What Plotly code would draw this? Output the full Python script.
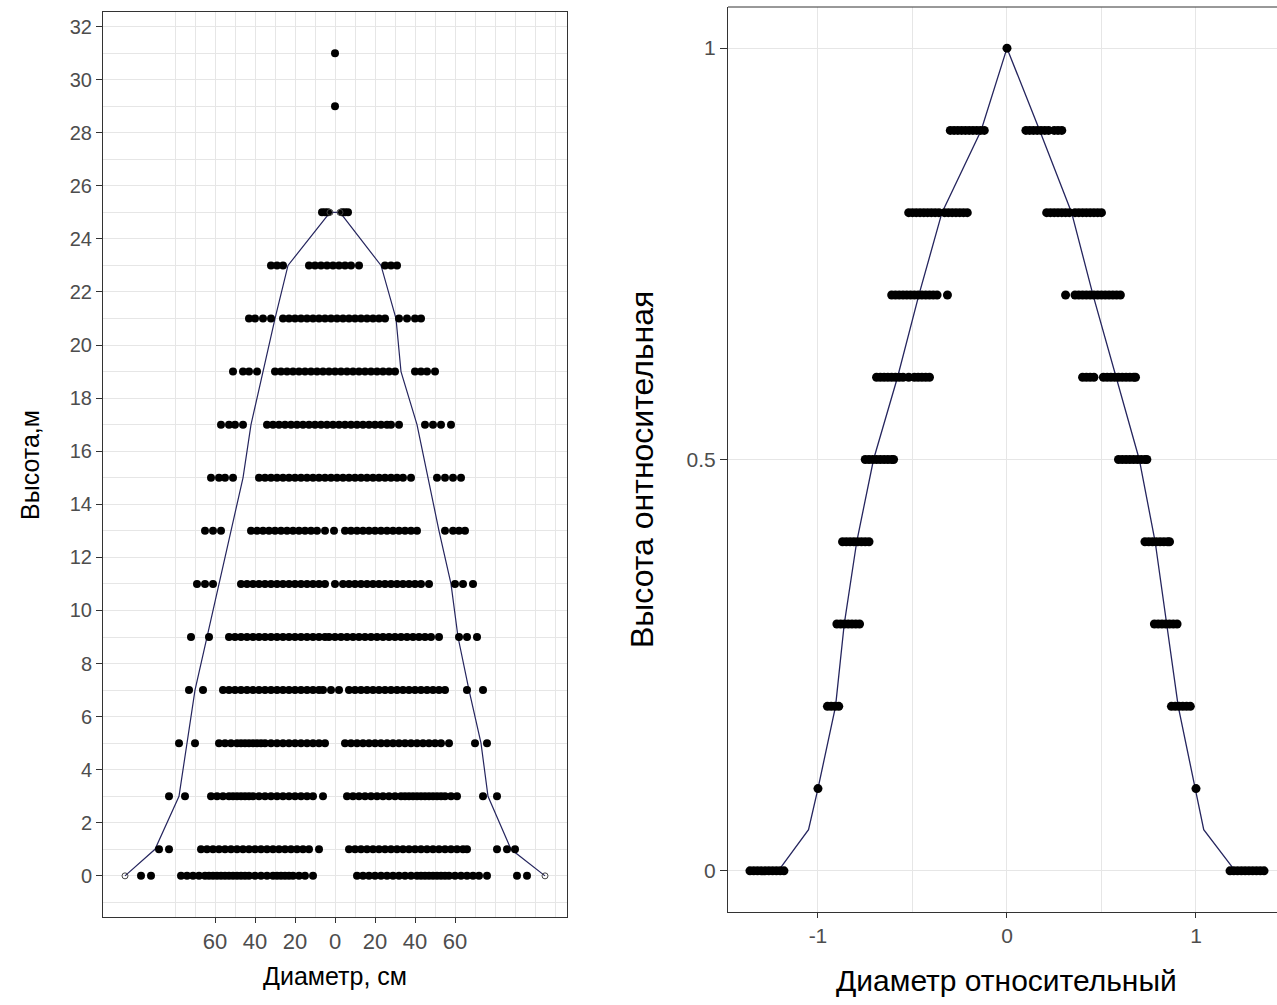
import plotly.graph_objects as go

# ---------------- Left panel data: height (m) vs diameter (cm) ----------------
heights_m = [0, 1, 3, 5, 7, 9, 11, 13, 15, 17, 19, 21, 23, 25, 29, 31]

d_h0 = [-97, -92, -77, -74, -71, -68, -65, -63, -61, -59, -57, -55, -53, -51, -49, -47, -45, -43, -40, -37,
        -34, -31, -29, -27, -25, -23, -21, -18, -15, -11, 11, 14, 17, 20, 23, 26, 29, 32, 35, 38, 41, 43, 45,
        47, 49, 51, 53, 55, 57, 60, 63, 66, 69, 72, 76, 91, 96]
d_h1 = [-88, -83, -67, -64, -61, -58, -55, -52, -49, -46, -43, -40, -37, -34, -31, -28, -25, -22, -19, -16,
        -13, -8, 7, 10, 13, 16, 19, 22, 25, 28, 31, 34, 37, 40, 43, 46, 49, 52, 55, 58, 61, 64, 66, 81, 86, 90]
d_h3 = [-83, -75, -62, -59, -56, -53, -51, -49, -47, -45, -43, -41, -38, -35, -32, -29, -26, -23, -20, -17,
        -14, -11, -6, 6, 9, 12, 15, 18, 21, 24, 27, 30, 33, 35, 37, 39, 41, 43, 45, 47, 49, 51, 53, 55, 58,
        61, 74, 81]
d_h5 = [-78, -70, -58, -55, -52, -49, -47, -45, -43, -41, -39, -37, -35, -32, -29, -26, -23, -20, -17, -14,
        -11, -8, -5, 5, 8, 11, 14, 17, 20, 23, 26, 29, 32, 35, 38, 41, 44, 47, 50, 53, 57, 70, 76]
d_h7 = [-73, -66, -56, -53, -50, -47, -44, -41, -38, -35, -32, -29, -26, -23, -20, -17, -14, -11, -8, -6,
        -2, 2, 7, 10, 13, 16, 19, 22, 25, 28, 31, 34, 37, 40, 43, 46, 49, 52, 55, 66, 74]
d_h9 = [-72, -63, -53, -50, -47, -44, -41, -38, -35, -32, -29, -26, -23, -20, -17, -14, -11, -8, -5, -3,
        0, 3, 6, 9, 12, 15, 18, 21, 24, 27, 30, 33, 36, 39, 42, 45, 48, 52, 62, 66, 71]
d_h11 = [-69, -65, -61, -47, -44, -41, -38, -35, -32, -29, -26, -23, -20, -17, -14, -11, -8, -5, 0, 4, 7,
         10, 13, 16, 19, 22, 25, 28, 31, 34, 37, 40, 43, 47, 60, 64, 69]
d_h13 = [-65, -61, -57, -42, -39, -36, -33, -30, -27, -24, -21, -18, -15, -12, -9, -5, -0.5, 5, 8, 11, 14,
         17, 20, 23, 26, 29, 32, 35, 38, 41, 55, 59, 62, 65]
d_h15 = [-62, -58, -55, -51, -38, -35, -32, -29, -26, -23, -20, -17, -14, -11, -8, -5, -2, 1, 4, 7, 10, 13,
         16, 19, 22, 25, 28, 31, 34, 38, 51, 55, 59, 63]
d_h17 = [-57, -53, -50, -46, -34, -31, -28, -25, -22, -19, -16, -13, -10, -7, -4, -1, 2, 5, 8, 11, 14, 17,
         20, 23, 26, 28, 32, 45, 49, 53, 58]
d_h19 = [-51, -46, -43, -39, -30, -27, -24, -21, -18, -15, -12, -9, -6, -3, 0, 3, 6, 9, 12, 15, 18, 21, 24,
         27, 30, 40, 43, 46, 50]
d_h21 = [-43, -40, -36, -32, -26, -23, -20, -17, -14, -11, -8, -5, -2, 1, 4, 7, 10, 13, 16, 19, 22, 25, 32,
         36, 40, 43]
d_h23 = [-32, -29, -26, -13, -10, -7, -4, -1, 2, 5, 8, 12, 25, 28, 31]
d_h25 = [-6.5, -5, -3.5, 3.5, 5, 6.5]
d_h29 = [0]
d_h31 = [0]

left_rows = [d_h0, d_h1, d_h3, d_h5, d_h7, d_h9, d_h11, d_h13, d_h15, d_h17, d_h19, d_h21, d_h23, d_h25,
             d_h29, d_h31]

# profile line (left panel)
prof_x = [-105, -90, -78, -74, -70, -64, -58, -52, -46, -42, -36, -30, -23.5, -2.5,
          2.5, 23, 30.5, 33, 41, 46.5, 52, 58, 61.5, 67, 73, 76.5, 88, 105]
prof_y = [0, 1, 3, 5, 7, 9, 11, 13, 15, 17, 19, 21, 23, 25,
          25, 23, 21, 19, 17, 15, 13, 11, 9, 7, 5, 3, 1, 0]
prof_end_x = [-105, -2.5, 2.5, 105]
prof_end_y = [0, 25, 25, 0]

left_xtick_vals = [-60, -40, -20, 0, 20, 40, 60]
left_xtick_text = ["60", "40", "20", "0", "20", "40", "60"]
left_xminor = [-80, -70, -50, -30, -10, 10, 30, 50, 70, 80, 90, 100, 110]
left_ytick_vals = list(range(0, 33, 2))
left_yminor = list(range(-1, 33, 2))

# ---------------- Right panel data: relative height vs relative diameter ----------------
rel_heights = [0, 0.1, 0.2, 0.3, 0.4, 0.5, 0.6, 0.7, 0.8, 0.9, 1.0]

r_h00 = [-1.36, -1.34, -1.32, -1.30, -1.28, -1.26, -1.24, -1.22, -1.20, -1.18,
         1.18, 1.20, 1.22, 1.24, 1.26, 1.28, 1.30, 1.32, 1.34, 1.36]
r_h01 = [-1.0, 1.0]
r_h02 = [-0.95, -0.93, -0.91, -0.89, 0.87, 0.89, 0.91, 0.93, 0.95, 0.97]
r_h03 = [-0.90, -0.88, -0.86, -0.84, -0.82, -0.80, -0.78, 0.78, 0.80, 0.82, 0.84, 0.86, 0.88, 0.90]
r_h04 = [-0.87, -0.85, -0.83, -0.81, -0.79, -0.77, -0.75, -0.73,
         0.73, 0.75, 0.77, 0.79, 0.81, 0.83, 0.85, 0.86]
r_h05 = [-0.75, -0.73, -0.71, -0.69, -0.67, -0.65, -0.63, -0.61, -0.60,
         0.59, 0.61, 0.63, 0.65, 0.67, 0.69, 0.71, 0.73, 0.74]
r_h06 = [-0.69, -0.67, -0.65, -0.63, -0.61, -0.59, -0.57, -0.55, -0.52, -0.49, -0.47, -0.45, -0.43, -0.41,
         0.40, 0.42, 0.44, 0.46, 0.51, 0.53, 0.55, 0.57, 0.59, 0.61, 0.63, 0.65, 0.67, 0.68]
r_h07 = [-0.61, -0.59, -0.57, -0.55, -0.53, -0.51, -0.49, -0.47, -0.45, -0.43, -0.41, -0.39, -0.37, -0.315,
         0.31, 0.36, 0.38, 0.40, 0.42, 0.44, 0.46, 0.48, 0.50, 0.52, 0.54, 0.56, 0.58, 0.60]
r_h08 = [-0.52, -0.50, -0.48, -0.46, -0.44, -0.42, -0.40, -0.38, -0.36, -0.33, -0.31, -0.29, -0.27, -0.25,
         -0.23, -0.21, 0.21, 0.23, 0.25, 0.27, 0.29, 0.31, 0.33, 0.36, 0.38, 0.40, 0.42, 0.44, 0.46, 0.48, 0.50]
r_h09 = [-0.30, -0.28, -0.26, -0.24, -0.22, -0.20, -0.18, -0.16, -0.14, -0.12,
         0.10, 0.12, 0.14, 0.16, 0.18, 0.20, 0.22, 0.25, 0.27, 0.29]
r_h10 = [0.0]

right_rows = [r_h00, r_h01, r_h02, r_h03, r_h04, r_h05, r_h06, r_h07, r_h08, r_h09, r_h10]

rel_prof_x = [-1.21, -1.05, -1.0, -0.907, -0.861, -0.795, -0.706, -0.579, -0.466, -0.344, -0.137, 0.0,
              0.173, 0.342, 0.455, 0.577, 0.70, 0.784, 0.846, 0.906, 0.996, 1.041, 1.207]
rel_prof_y = [0, 0.05, 0.1, 0.2, 0.3, 0.4, 0.5, 0.6, 0.7, 0.8, 0.9, 1.0,
              0.9, 0.8, 0.7, 0.6, 0.5, 0.4, 0.3, 0.2, 0.1, 0.05, 0]

right_xtick_vals = [-1, 0, 1]
right_xtick_text = ["-1", "0", "1"]
right_xminor = [-0.5, 0.5]
right_ytick_vals = [0, 0.5, 1]
right_ytick_text = ["0", "0.5", "1"]

# ---------------- Build figure ----------------
W, H = 1277, 1005
FONT = "Liberation Sans, Arial, sans-serif"
GRID = "#e6e6e6"
LINE_COL = "#25255e"

left_x, left_y = [], []
for h, row in zip(heights_m, left_rows):
    left_x += row
    left_y += [h] * len(row)

right_x, right_y = [], []
for h, row in zip(rel_heights, right_rows):
    right_x += row
    right_y += [h] * len(row)

fig = go.Figure()

fig.add_trace(go.Scatter(x=prof_x, y=prof_y, mode="lines", line=dict(color=LINE_COL, width=1.2),
                         xaxis="x", yaxis="y", hoverinfo="skip", showlegend=False))
fig.add_trace(go.Scatter(x=left_x, y=left_y, mode="markers",
                         marker=dict(color="black", size=8, line=dict(width=0)),
                         xaxis="x", yaxis="y", showlegend=False))
fig.add_trace(go.Scatter(x=prof_end_x, y=prof_end_y, mode="markers",
                         marker=dict(symbol="circle-open", color="#444444", size=6, line=dict(width=1)),
                         xaxis="x", yaxis="y", showlegend=False))

fig.add_trace(go.Scatter(x=rel_prof_x, y=rel_prof_y, mode="lines", line=dict(color=LINE_COL, width=1.3),
                         xaxis="x2", yaxis="y2", hoverinfo="skip", showlegend=False))
fig.add_trace(go.Scatter(x=right_x, y=right_y, mode="markers",
                         marker=dict(color="black", size=9, line=dict(width=0)),
                         xaxis="x2", yaxis="y2", showlegend=False))

def px2x(p):
    return p / W

def px2y(p):
    return 1 - p / H

L_LEFT, L_RIGHT, L_TOP, L_BOTTOM = 103, 567, 12, 917
R_LEFT, R_TOP, R_BOTTOM = 728, 7, 912

axis_common = dict(showline=True, linecolor="#333333", linewidth=1, zeroline=False,
                   gridcolor=GRID, gridwidth=1, ticks="outside", tickcolor="#333333",
                   fixedrange=True)

fig.update_layout(
    width=W, height=H, autosize=False,
    margin=dict(l=0, r=0, t=0, b=0),
    paper_bgcolor="white", plot_bgcolor="white",
    font=dict(family=FONT, color="#4d4d4d"),
    xaxis=dict(domain=[px2x(L_LEFT), px2x(L_RIGHT)], range=[-116, 116], anchor="y",
               tickmode="array", tickvals=left_xtick_vals, ticktext=left_xtick_text,
               tickfont=dict(size=22, color="#4d4d4d"), ticklen=5, mirror=True,
               minor=dict(tickmode="array", tickvals=left_xminor, showgrid=True, gridcolor=GRID,
                          gridwidth=1, ticks=""),
               **axis_common),
    yaxis=dict(domain=[px2y(L_BOTTOM), px2y(L_TOP)], range=[-1.55, 32.55], anchor="x",
               tickmode="array", tickvals=left_ytick_vals,
               tickfont=dict(size=20, color="#4d4d4d"), ticklen=6, mirror=True,
               minor=dict(tickmode="array", tickvals=left_yminor, showgrid=True, gridcolor=GRID,
                          gridwidth=1, ticks=""),
               **axis_common),
    xaxis2=dict(domain=[px2x(R_LEFT), 1.0], range=[-1.476, 1.4286], anchor="y2",
                tickmode="array", tickvals=right_xtick_vals, ticktext=right_xtick_text,
                tickfont=dict(size=21, color="#4d4d4d"), ticklen=5,
                minor=dict(tickmode="array", tickvals=right_xminor, showgrid=True, gridcolor=GRID,
                           gridwidth=1, ticks=""),
                **axis_common),
    yaxis2=dict(domain=[px2y(R_BOTTOM), px2y(R_TOP)], range=[-0.05, 1.05], anchor="x2",
                tickmode="array", tickvals=right_ytick_vals, ticktext=right_ytick_text,
                tickfont=dict(size=21, color="#4d4d4d"), ticklen=7,
                **axis_common),
    shapes=[dict(type="line", xref="paper", yref="paper", x0=px2x(R_LEFT), x1=1.0,
                 y0=px2y(R_TOP), y1=px2y(R_TOP), line=dict(color="#333333", width=1))],
    annotations=[
        dict(text="Диаметр, см", xref="paper", yref="paper", x=px2x(335), y=px2y(976),
             showarrow=False, font=dict(size=25, color="black", family=FONT),
             xanchor="center", yanchor="middle"),
        dict(text="Высота,м", xref="paper", yref="paper", x=px2x(30), y=px2y(465),
             showarrow=False, textangle=-90, font=dict(size=25, color="black", family=FONT),
             xanchor="center", yanchor="middle"),
        dict(text="Диаметр относительный", xref="paper", yref="paper", x=px2x(1007), y=px2y(980),
             showarrow=False, font=dict(size=30, color="black", family=FONT),
             xanchor="center", yanchor="middle"),
        dict(text="Высота онтносительная", xref="paper", yref="paper", x=px2x(642), y=px2y(470),
             showarrow=False, textangle=-90, font=dict(size=32, color="black", family=FONT),
             xanchor="center", yanchor="middle"),
    ],
)

fig.write_html("out.html")
